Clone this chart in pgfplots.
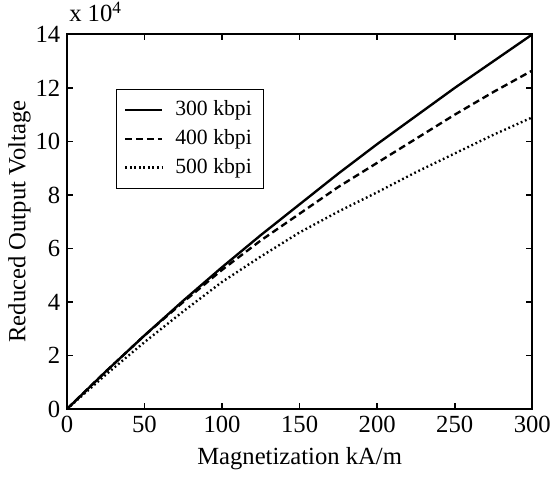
\documentclass[border=0pt]{standalone}
\usepackage{pgfplots}
\pgfplotsset{compat=1.18}
\usepackage{fontspec}
\setmainfont{Liberation Serif}
\begin{document}
\fontsize{12.5}{15}\selectfont
\begin{tikzpicture}
  \begin{axis}[
    scale only axis,
    width=236pt, height=190pt,
    xmin=0, xmax=300, ymin=0, ymax=14,
    xtick={0,50,...,300},
    ytick={0,2,...,14},
    tick align=inside,
    ticks=both,
    major tick length=3pt,
    axis line style={line width=1.1pt},
    every tick/.style={black, line width=0.8pt},
    /pgf/number format/assume math mode=true,
    tick label style={font=\fontsize{12.5}{15}\selectfont},
    label style={font=\fontsize{12.5}{15}\selectfont},
    xlabel={Magnetization kA/m},
    ylabel={Reduced Output Voltage},
    xlabel style={yshift=1pt},
    ylabel style={yshift=-6pt},
    xticklabel style={yshift=1pt},
    yticklabel style={xshift=1pt},
    legend style={at={(0.105,0.855)}, anchor=north west, draw=black, line width=0.4pt,
      font=\fontsize{11}{13}\selectfont, row sep=1pt, inner xsep=4pt, inner ysep=4pt,
      /tikz/every odd column/.append style={column sep=4pt}},
    legend cell align=left,
    legend image post style={xscale=1.1},
    clip=false,
  ]
    \addplot[black, line width=1.2pt] coordinates {
      (0,0) (25,1.4) (50,2.75) (75,4.05) (100,5.3) (125,6.5) (150,7.65)
      (175,8.8) (200,9.9) (225,10.95) (250,12.0) (275,13.0) (300,14.0)};
    \addlegendentry{300 kbpi}
    \addplot[black, line width=1.2pt, dash pattern=on 3.5pt off 2pt] coordinates {
      (0,0) (25,1.4) (50,2.75) (75,4.0) (100,5.2) (125,6.3) (150,7.3)
      (175,8.3) (200,9.2) (225,10.1) (250,11.0) (275,11.85) (300,12.65)};
    \addlegendentry{400 kbpi}
    \addplot[black, line width=1.2pt, dash pattern=on 0.9pt off 1.4pt] coordinates {
      (0,0) (25,1.28) (50,2.5) (75,3.65) (100,4.75) (125,5.7) (150,6.6)
      (175,7.38) (200,8.1) (225,8.85) (250,9.55) (275,10.25) (300,10.9)};
    \addlegendentry{500 kbpi}
    \node[anchor=south west, inner sep=1pt, yshift=5pt] at (rel axis cs:0,1) {x 10\textsuperscript{4}};
  \end{axis}
\end{tikzpicture}
\end{document}
